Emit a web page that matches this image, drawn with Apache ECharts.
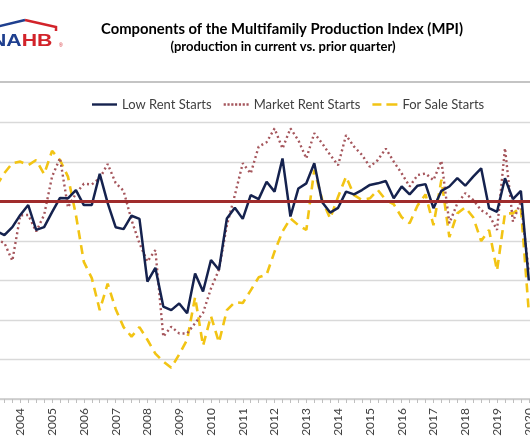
<!DOCTYPE html>
<html><head><meta charset="utf-8">
<script src="https://cdn.jsdelivr.net/npm/echarts@6.0.0/dist/echarts.min.js"></script>
<style>html,body{margin:0;padding:0;background:#fff}#c{width:530px;height:443px}</style>
</head><body><div id="c"></div>
<script>
const quarters = ['2003Q2','2003Q3','2003Q4',
'2004Q1','2004Q2','2004Q3','2004Q4','2005Q1','2005Q2','2005Q3','2005Q4',
'2006Q1','2006Q2','2006Q3','2006Q4','2007Q1','2007Q2','2007Q3','2007Q4',
'2008Q1','2008Q2','2008Q3','2008Q4','2009Q1','2009Q2','2009Q3','2009Q4',
'2010Q1','2010Q2','2010Q3','2010Q4','2011Q1','2011Q2','2011Q3','2011Q4',
'2012Q1','2012Q2','2012Q3','2012Q4','2013Q1','2013Q2','2013Q3','2013Q4',
'2014Q1','2014Q2','2014Q3','2014Q4','2015Q1','2015Q2','2015Q3','2015Q4',
'2016Q1','2016Q2','2016Q3','2016Q4','2017Q1','2017Q2','2017Q3','2017Q4',
'2018Q1','2018Q2','2018Q3','2018Q4','2019Q1','2019Q2','2019Q3','2019Q4',
'2020Q1'];
const lowRent = [42.5,41.5,43.5,
46.6,49.1,42.8,43.5,47.3,50.9,50.8,52.9,
49.1,49.1,57.0,49.6,43.5,43.0,46.4,45.6,
29.7,33.2,23.4,22.5,24.2,21.7,31.8,27.2,
35.2,32.7,45.7,48.4,45.6,51.6,50.6,55.0,
52.5,60.9,46.2,53.3,54.6,59.7,49.8,47.2,
48.4,52.5,51.8,52.9,54.2,54.6,55.2,50.8,
53.8,51.8,54.0,54.4,48.3,52.7,53.8,55.9,
54.0,56.3,58.4,48.3,47.4,55.9,50.6,52.7,
30.0];
const marketRent = [40.3,39.5,35.0,
46.5,46.6,42.4,46.6,56.3,61.0,48.5,52.0,
54.5,54.3,55.9,59.5,54.7,52.7,45.3,39.4,
34.8,37.7,15.8,18.3,16.6,16.6,19.2,21.8,
28.0,32.7,44.0,51.6,59.7,57.1,63.9,65.0,
68.5,63.4,68.5,65.5,60.9,67.3,64.7,61.8,
59.2,66.8,63.9,61.8,58.8,60.5,63.4,60.1,
57.1,53.8,56.7,57.1,55.4,60.3,44.5,49.5,
52.1,50.4,47.8,46.6,42.8,63.5,44.9,50.0,
32.0];
const forSale = [54.0,57.2,59.7,
60.1,59.2,60.5,56.9,62.8,60.5,56.3,46.6,
34.7,30.6,22.5,29.2,22.8,18.2,15.8,18.2,
15.0,11.5,9.5,7.9,11.3,15.0,25.8,13.5,
21.0,14.3,22.5,24.5,24.3,27.5,30.8,31.5,
37.3,42.4,45.7,44.0,42.8,58.0,50.4,45.7,
51.2,56.3,51.6,50.4,50.8,52.9,50.4,49.3,
46.0,44.5,49.0,51.8,44.0,55.5,41.0,47.0,
48.5,46.0,40.0,42.8,32.5,47.0,47.0,48.5,
22.0];
const breakEven = 50;
const seriesNames = ['Low Rent Starts','Market Rent Starts','For Sale Starts'];
const yTicks = [0,10,20,30,40,50,60,70];

function toT(q){ return +q.slice(0,4) + (+q.slice(5)-1)/4; }
function pairs(arr){ return quarters.map((q,i)=>[toT(q), arr[i]]); }

const iconSolid = 'path://M0,0h25v2.4h-25z';
const iconDot = 'path://M0,0h2.2v2.4h-2.2zM3.8,0h2.2v2.4h-2.2zM7.6,0h2.2v2.4h-2.2zM11.4,0h2.2v2.4h-2.2zM15.2,0h2.2v2.4h-2.2zM19,0h2.2v2.4h-2.2zM22.8,0h2.2v2.4h-2.2z';
const iconDash = 'path://M0,0h9v2.6h-9zM14,0h11v2.6h-11z';

const chart = echarts.init(document.getElementById('c'), null, {renderer:'canvas'});
const FF = 'Lato, "Open Sans", sans-serif';
chart.setOption({
  animation:false,
  backgroundColor:'#fff',
  textStyle:{fontFamily:FF},
  graphic:[
    {type:'text', x:282, y:22, style:{text:'Components of the Multifamily Production Index (MPI)', fill:'#000', font:'bold 14.8px '+FF, textAlign:'center'}},
    {type:'text', x:283, y:40, style:{text:'(production in current vs. prior quarter)', fill:'#000', font:'bold 13px '+FF, textAlign:'center'}},
    {type:'line', shape:{x1:0,y1:82,x2:530,y2:82}, style:{stroke:'#c4c4c4', lineWidth:2}},
    {type:'polyline', shape:{points:[[-12,29],[25,20]]}, style:{stroke:'#1f3f8f', lineWidth:2.5, fill:null}},
    {type:'polyline', shape:{points:[[25,20],[56,27],[56,31]]}, style:{stroke:'#d2232a', lineWidth:2.5, fill:null}},
    {type:'text', x:-9, y:33, scaleX:1.25, style:{text:'{b|NA}{r|HB}', font:'bold 17px "Liberation Sans", Arial, sans-serif', rich:{b:{fill:'#1f3f8f', font:'bold 17px "Liberation Sans", Arial, sans-serif'}, r:{fill:'#d2232a', font:'bold 17px "Liberation Sans", Arial, sans-serif'}}}},
    {type:'text', x:59, y:43, style:{text:'®', fill:'#d2232a', font:'5px sans-serif'}}
  ],
  legend:{
    data:[{name:seriesNames[0], icon:iconSolid},{name:seriesNames[1], icon:iconDot},{name:seriesNames[2], icon:iconDash}],
    left:87, top:93, itemWidth:25, itemHeight:14, itemGap:12,
    textStyle:{fontSize:13, color:'#404040', fontFamily:FF}
  },
  grid:{left:-11.5, right:-30.6, top:122.5, bottom:44, containLabel:false, outerBoundsMode:'none'},
  xAxis:{
    type:'value', min:2003, max:2021, interval:1,
    axisLine:{show:true, lineStyle:{color:'#c8c8c8', width:1.5}},
    axisTick:{show:true, length:4, lineStyle:{color:'#bfbfbf'}},
    minorTick:{show:true, splitNumber:4, length:4, lineStyle:{color:'#bfbfbf'}},
    splitLine:{show:false},
    axisLabel:{rotate:90, margin:9, fontSize:12, color:'#404040', fontFamily:FF, formatter:v=>String(v)}
  },
  yAxis:{
    type:'value', min:yTicks[0], max:yTicks[yTicks.length-1], interval:10,
    axisLabel:{show:false}, axisLine:{show:false}, axisTick:{show:false},
    splitLine:{lineStyle:{color:'#d9d9d9', width:1.3}}
  },
  series:[
    {name:'_be', type:'line', data:[], silent:true, z:1,
     markLine:{silent:true, symbol:'none', label:{show:false},
       lineStyle:{color:'#a02c2c', width:3.2, type:'solid'}, data:[{yAxis:breakEven}]}},
    {name:seriesNames[0], type:'line', data:pairs(lowRent), showSymbol:false, symbol:'none', z:4,
     lineStyle:{color:'#15224e', width:2.5}, itemStyle:{color:'#15224e'}},
    {name:seriesNames[1], type:'line', data:pairs(marketRent), showSymbol:false, symbol:'none', z:3,
     lineStyle:{color:'#a5565c', width:2.4, type:[2,3]}, itemStyle:{color:'#a5565c'}},
    {name:seriesNames[2], type:'line', data:pairs(forSale), showSymbol:false, symbol:'none', z:2,
     lineStyle:{color:'#f2c414', width:2.6, type:[9,6]}, itemStyle:{color:'#f2c414'}}
  ]
});
</script></body></html>
